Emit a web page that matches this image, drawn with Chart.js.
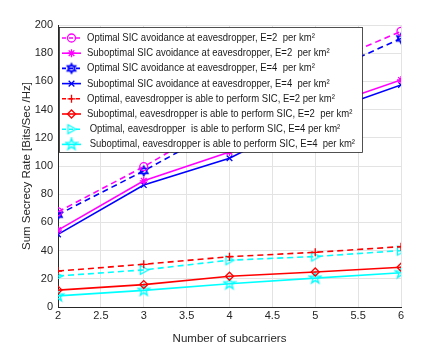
<!DOCTYPE html>
<html>
<head>
<meta charset="utf-8">
<script src="https://cdn.jsdelivr.net/npm/chart.js@4.4.0/dist/chart.umd.min.js"></script>
<style>
  html, body { margin: 0; padding: 0; background: #fff; }
  #wrap { width: 443px; height: 346px; position: relative; }
</style>
</head>
<body>
<div id="wrap"><canvas id="secrecyChart" width="443" height="346"></canvas></div>
<script>
// number of subcarriers
const subcarriers = [2, 3, 4, 5, 6];

// sum secrecy rate [Bits/Sec/Hz]
const optSicE2 = [67.5, 99.5, 135, 169.5, 195.5];
const subSicE2 = [54.5, 89.5, 110, 140, 161];
const optSicE4 = [65.5, 96.5, 130, 163, 190.5];
const subSicE4 = [51.5, 86.5, 105.5, 136, 157.5];
const optEveE2 = [25.5, 30.3, 35.7, 38.8, 42.8];
const subEveE2 = [12, 15.9, 21.8, 24.8, 28.2];
const optEveE4 = [22, 26.3, 33.2, 35.8, 40];
const subEveE4 = [7.9, 11.8, 16.5, 20.5, 24.3];

const seriesNames = [
    'Optimal SIC avoidance at eavesdropper, E=2  per km\u00b2',
    'Suboptimal SIC avoidance at eavesdropper, E=2  per km\u00b2',
    'Optimal SIC avoidance at eavesdropper, E=4  per km\u00b2',
    'Suboptimal SIC avoidance at eavesdropper, E=4  per km\u00b2',
    'Optimal, eavesdropper is able to perform SIC, E=2 per km\u00b2',
    'Suboptimal, eavesdropper is able to perform SIC, E=2  per km\u00b2',
    ' Optimal, eavesdropper  is able to perform SIC, E=4 per km\u00b2',
    ' Suboptimal, eavesdropper is able to perform SIC, E=4  per km\u00b2'
];

const FONT = '"Liberation Sans", Arial, Helvetica, sans-serif';
const AXIS_COLOR = '#262626';

// marker images for shapes chart.js does not have
function makeMarker(kind, color) {
    const c = document.createElement('canvas');
    c.width = 14; c.height = 14;
    const g = c.getContext('2d');
    g.strokeStyle = color;
    g.lineWidth = 1.3;
    g.translate(7, 7);
    g.beginPath();
    if (kind === 'hexagram') {
        const r = 5;
        for (let t = 0; t < 2; t++) {
            for (let i = 0; i < 3; i++) {
                const a = -Math.PI / 2 + t * Math.PI + i * 2 * Math.PI / 3;
                const px = r * Math.cos(a), py = r * Math.sin(a);
                if (i === 0) g.moveTo(px, py); else g.lineTo(px, py);
            }
            g.closePath();
        }
    } else if (kind === 'pentagram') {
        const ro = 6, ri = 2.4;
        for (let i = 0; i < 10; i++) {
            const a = -Math.PI / 2 + i * Math.PI / 5;
            const r = i % 2 === 0 ? ro : ri;
            const px = r * Math.cos(a), py = r * Math.sin(a);
            if (i === 0) g.moveTo(px, py); else g.lineTo(px, py);
        }
        g.closePath();
    } else if (kind === 'triRight') {
        g.moveTo(4.5, 0);
        g.lineTo(-3.5, -4.5);
        g.lineTo(-3.5, 4.5);
        g.closePath();
    }
    g.stroke();
    return c;
}

function series(label, values, color, dashed, style) {
    return {
        label: label,
        data: subcarriers.map((x, i) => ({ x: x, y: values[i] })),
        borderColor: color,
        backgroundColor: 'rgba(0,0,0,0)',
        borderWidth: 1.6,
        borderDash: dashed ? [6, 4] : [],
        pointStyle: style,
        pointRadius: 4,
        pointBorderWidth: 1.3,
        pointBorderColor: color,
        pointBackgroundColor: 'rgba(0,0,0,0)',
        fill: false,
        tension: 0
    };
}

const datasets = [
    series(seriesNames[0], optSicE2, '#ff00ff', true, 'circle'),
    series(seriesNames[1], subSicE2, '#ff00ff', false, 'star'),
    series(seriesNames[2], optSicE4, '#0000ff', true, makeMarker('hexagram', '#0000ff')),
    series(seriesNames[3], subSicE4, '#0000ff', false, 'crossRot'),
    series(seriesNames[4], optEveE2, '#ff0000', true, 'cross'),
    series(seriesNames[5], subEveE2, '#ff0000', false, 'rectRot'),
    series(seriesNames[6], optEveE4, '#00ffff', true, makeMarker('triRight', '#00ffff')),
    series(seriesNames[7], subEveE4, '#00ffff', false, makeMarker('pentagram', '#00ffff'))
];

// matlab-like legend box inside the axes
const boxLegend = {
    id: 'boxLegend',
    afterDraw(chart) {
        const ctx = chart.ctx;
        const area = chart.chartArea;
        const x0 = area.left + 1, y0 = area.top + 2;
        const w = 303, h = 125, rowH = 15.2;
        ctx.save();
        ctx.fillStyle = '#fff';
        ctx.fillRect(x0, y0, w, h);
        ctx.strokeStyle = '#262626';
        ctx.lineWidth = 0.8;
        ctx.strokeRect(x0 + 0.5, y0 + 0.5, w, h);
        ctx.textBaseline = 'middle';
        chart.data.datasets.forEach((ds, i) => {
            const cy = y0 + 11 + i * rowH;
            ctx.save();
            ctx.strokeStyle = ds.borderColor;
            ctx.lineWidth = ds.borderWidth;
            ctx.setLineDash(ds.borderDash.length ? [4, 3] : []);
            ctx.beginPath();
            ctx.moveTo(x0 + 3, cy);
            ctx.lineTo(x0 + 22, cy);
            ctx.stroke();
            ctx.setLineDash([]);
            ctx.strokeStyle = ds.borderColor;
            ctx.fillStyle = 'rgba(0,0,0,0)';
            ctx.lineWidth = 1.3;
            Chart.helpers.drawPoint(ctx, {
                pointStyle: ds.pointStyle,
                radius: 4,
                rotation: 0,
                borderWidth: 1.3
            }, x0 + 12.5, cy);
            ctx.restore();
            // text is a bit narrower than the axis font in the original
            ctx.save();
            ctx.translate(x0 + 28, cy);
            ctx.scale(0.88, 1);
            ctx.font = '10.8px ' + FONT;
            ctx.fillStyle = '#1a1a1a';
            ctx.fillText(ds.label, 0, 0);
            ctx.restore();
        });
        ctx.restore();
    }
};

const ctx = document.getElementById('secrecyChart').getContext('2d');
window.chart = new Chart(ctx, {
    type: 'line',
    data: { datasets: datasets },
    options: {
        responsive: false,
        animation: false,
        devicePixelRatio: 1,
        layout: { padding: { left: 0, top: 25, right: 42, bottom: 0 } },
        plugins: {
            legend: { display: false },
            tooltip: { enabled: false }
        },
        scales: {
            x: {
                type: 'linear',
                min: 2,
                max: 6,
                afterFit: s => { s.height = 39; },
                ticks: {
                    stepSize: 0.5,
                    color: AXIS_COLOR,
                    font: { family: FONT, size: 11 },
                    padding: 2,
                    maxRotation: 0,
                    callback: v => String(v)
                },
                grid: { color: '#e3e3e3', drawTicks: false },
                border: { color: AXIS_COLOR, width: 1 },
                title: {
                    display: true,
                    text: 'Number of subcarriers',
                    color: AXIS_COLOR,
                    font: { family: FONT, size: 11.5 },
                    padding: { top: 8, bottom: 0 }
                }
            },
            y: {
                min: 0,
                max: 200,
                afterFit: s => { s.width = 58; },
                ticks: {
                    stepSize: 20,
                    color: AXIS_COLOR,
                    font: { family: FONT, size: 11 },
                    padding: 5
                },
                grid: { color: '#e3e3e3', drawTicks: false },
                border: { color: AXIS_COLOR, width: 1 },
                title: {
                    display: true,
                    text: 'Sum Secrecy Rate [Bits/Sec /Hz]',
                    color: AXIS_COLOR,
                    font: { family: FONT, size: 11.5 },
                    padding: { top: 20, bottom: 0 }
                }
            }
        }
    },
    plugins: [boxLegend]
});
</script>
</body>
</html>
